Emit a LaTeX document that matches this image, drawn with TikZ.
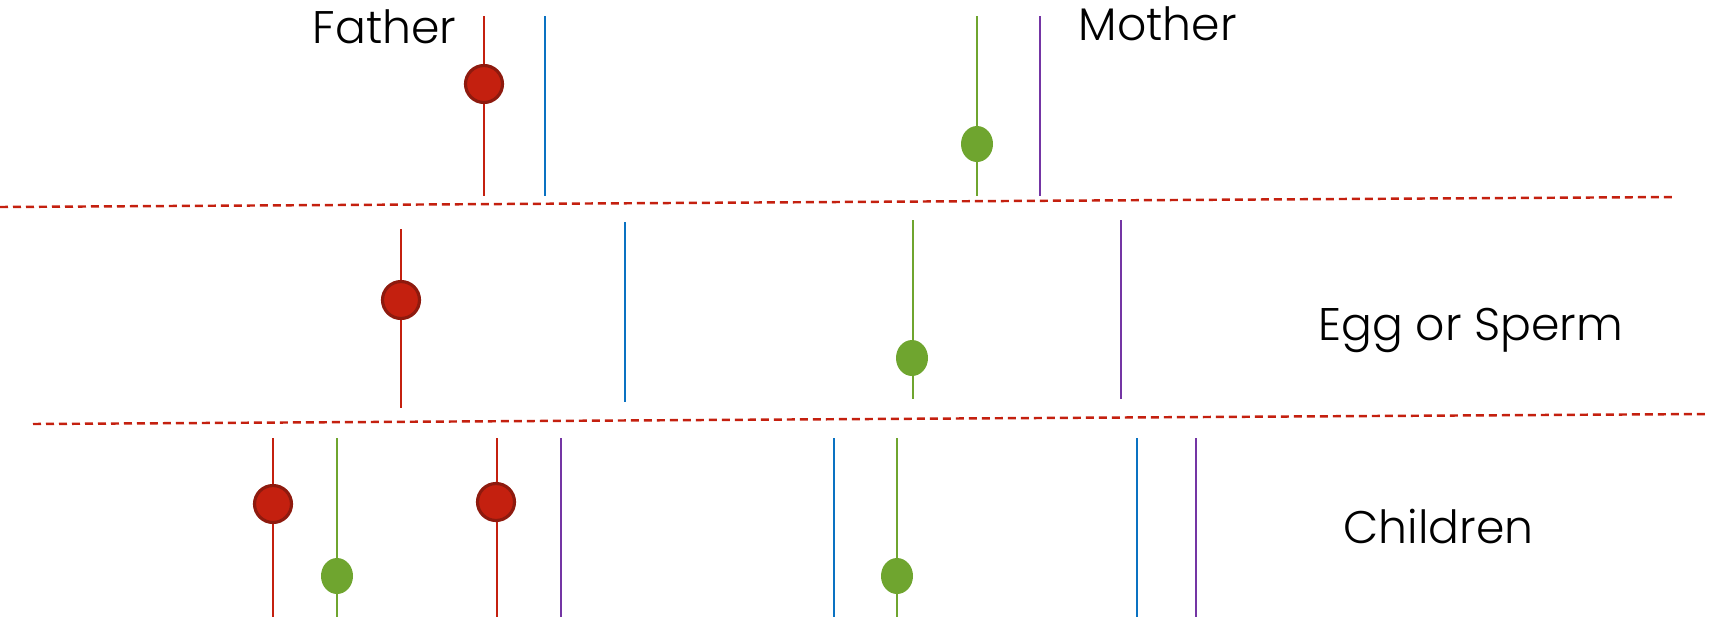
\documentclass[tikz,border=0pt]{standalone}
\usepackage{fontspec}
\usetikzlibrary{shapes.geometric}
\setmainfont{Poppins}[UprightFont=* Light]
\definecolor{cred}{HTML}{C4200F}
\definecolor{cdred}{HTML}{8E1A0E}
\definecolor{cblue}{HTML}{0A72C2}
\definecolor{cgreen}{HTML}{6FA52F}
\definecolor{cpurple}{HTML}{7435A4}
\begin{document}
\begin{tikzpicture}[x=0.1mm,y=-0.1mm,
  chrom/.style={line width=0.8pt},
  sep/.style={draw=cred,line width=0.7pt,dash pattern=on 0.8mm off 0.5mm},
  rdot/.style={circle,fill=cred,draw=cdred,line width=0.9pt,minimum size=3.7mm,inner sep=0pt},
  gdot/.style={ellipse,fill=cgreen,draw=none,minimum width=3.2mm,minimum height=3.6mm,inner sep=0pt},
  lbl/.style={anchor=base west,inner sep=0pt,font=\fontsize{13pt}{15pt}\selectfont}]
\useasboundingbox (0,0) rectangle (1709,622);
% separators
\coordinate (s1a) at (0,207); \coordinate (s1b) at (1675,197);
\coordinate (s2a) at (33,424); \coordinate (s2b) at (1707,414);
\draw[sep] (s1a) -- (s1b);
\draw[sep] (s2a) -- (s2b);
% Father
\coordinate (f1t) at (484,16); \coordinate (f1b) at (484,196);
\coordinate (f2t) at (545,16); \coordinate (f2b) at (545,196);
\draw[chrom,cred] (f1t) -- (f1b);
\draw[chrom,cblue] (f2t) -- (f2b);
\node[rdot] (fd) at (484,84) {};
% Mother
\coordinate (m1t) at (977,16); \coordinate (m1b) at (977,196);
\coordinate (m2t) at (1040,16); \coordinate (m2b) at (1040,196);
\draw[chrom,cgreen] (m1t) -- (m1b);
\draw[chrom,cpurple] (m2t) -- (m2b);
\node[gdot] (md) at (977,144) {};
% Egg or sperm
\coordinate (e1t) at (401,229); \coordinate (e1b) at (401,408);
\coordinate (e2t) at (625,222); \coordinate (e2b) at (625,402);
\coordinate (e3t) at (913,220); \coordinate (e3b) at (913,399);
\coordinate (e4t) at (1121,220); \coordinate (e4b) at (1121,399);
\draw[chrom,cred] (e1t) -- (e1b);
\draw[chrom,cblue] (e2t) -- (e2b);
\draw[chrom,cgreen] (e3t) -- (e3b);
\draw[chrom,cpurple] (e4t) -- (e4b);
\node[rdot] (ed1) at (401,300) {};
\node[gdot] (ed2) at (912,358) {};
% Children
\coordinate (c1t) at (273,438); \coordinate (c1b) at (273,617);
\coordinate (c2t) at (337,438); \coordinate (c2b) at (337,617);
\coordinate (c3t) at (497,438); \coordinate (c3b) at (497,617);
\coordinate (c4t) at (561,438); \coordinate (c4b) at (561,617);
\coordinate (c5t) at (834,438); \coordinate (c5b) at (834,617);
\coordinate (c6t) at (897,438); \coordinate (c6b) at (897,617);
\coordinate (c7t) at (1137,438); \coordinate (c7b) at (1137,617);
\coordinate (c8t) at (1196,438); \coordinate (c8b) at (1196,617);
\draw[chrom,cred] (c1t) -- (c1b);
\draw[chrom,cgreen] (c2t) -- (c2b);
\draw[chrom,cred] (c3t) -- (c3b);
\draw[chrom,cpurple] (c4t) -- (c4b);
\draw[chrom,cblue] (c5t) -- (c5b);
\draw[chrom,cgreen] (c6t) -- (c6b);
\draw[chrom,cblue] (c7t) -- (c7b);
\draw[chrom,cpurple] (c8t) -- (c8b);
\node[rdot] (cd1) at (273,504) {};
\node[gdot] (cd2) at (337,576) {};
\node[rdot] (cd3) at (496,502) {};
\node[gdot] (cd4) at (897,576) {};
% labels
\node[lbl] (father) at (312,43) {Father};
\node[lbl] (mother) at (1078,40) {Mother};
\node[lbl] (egg) at (1318,340) {Egg or Sperm};
\node[lbl] (children) at (1343,543) {Children};
\end{tikzpicture}
\end{document}
